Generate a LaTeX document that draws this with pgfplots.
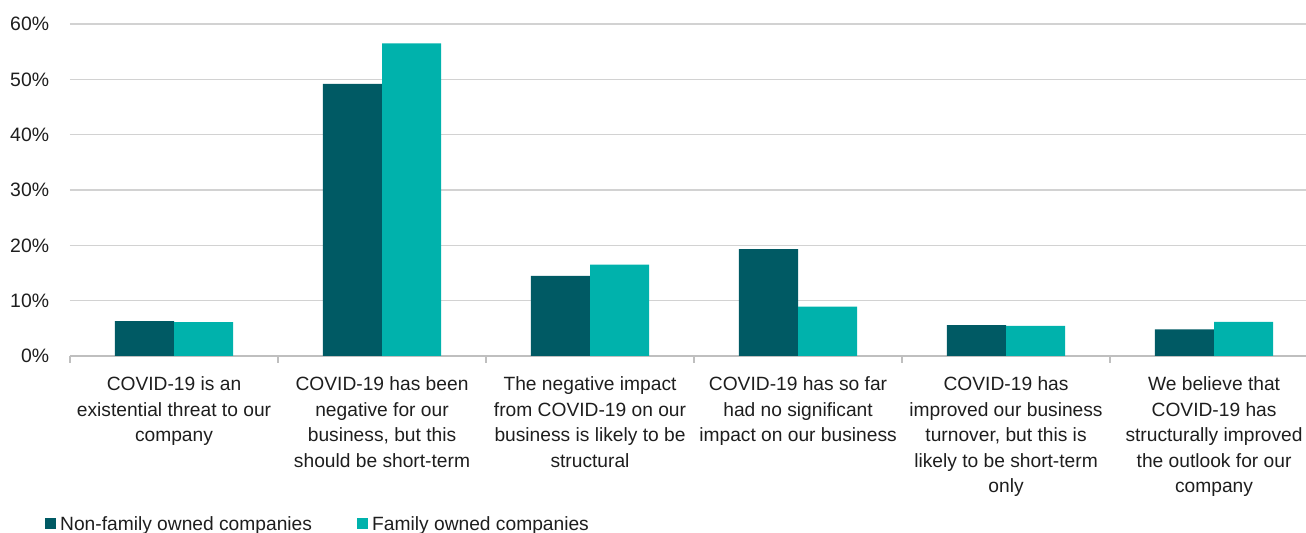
\documentclass[border=0pt]{standalone}
\usepackage{pgfplots}
\pgfplotsset{compat=1.18}
\usepackage{fontspec}
\setmainfont{Liberation Sans}
\definecolor{dk}{HTML}{005A64}
\definecolor{tl}{HTML}{00B2AC}
\definecolor{gridc}{HTML}{D2D2D2}
\definecolor{basec}{HTML}{BFBFBF}
\definecolor{txt}{HTML}{1E1E1E}
\begin{document}
\begin{tikzpicture}
\useasboundingbox (0,0) rectangle (653pt,266.5pt);
\begin{axis}[
  at={(35pt,88.5pt)}, anchor=south west,
  scale only axis, width=618pt, height=166pt,
  xmin=-0.5, xmax=5.442, ymin=0, ymax=60,
  ybar=0pt, bar width=0.284,
  axis x line*=bottom, axis y line*=left,
  x axis line style={-, draw=basec, line width=1pt},
  y axis line style={draw=none},
  ymajorgrids, grid style={draw=gridc, line width=0.6pt},
  ytick={0,10,...,60},
  yticklabel={\pgfmathprintnumber{\tick}\%},
  /pgf/number format/assume math mode=true,
  yticklabel style={anchor=east, inner sep=0pt, xshift=-6pt, text=txt, font=\fontsize{9.7}{12.75}\selectfont},
  ytick style={draw=none},
  xtick={0,1,2,3,4,5},
  xticklabels={
    {COVID-19 is an\\existential threat to our\\company},
    {COVID-19 has been\\negative for our\\business, but this\\should be short-term},
    {The negative impact\\from COVID-19 on our\\business is likely to be\\structural},
    {COVID-19 has so far\\had no significant\\impact on our business},
    {COVID-19 has\\improved our business\\turnover, but this is\\likely to be short-term\\only},
    {We believe that\\COVID-19 has\\structurally improved\\the outlook for our\\company}},
  xticklabel style={align=center, anchor=north, inner sep=0pt, yshift=-6pt, text=txt, font=\fontsize{9.6}{12.75}\selectfont},
  major x tick style={draw=none},
  minor xtick={-0.5,0.5,1.5,2.5,3.5,4.5},
  minor x tick style={draw=basec, line width=0.8pt},
  minor tick length=3.5pt,
  tick align=outside,
  legend columns=2,
  legend cell align=left,
  legend style={at={(axis description cs:-0.02023,-0.5332)}, anchor=south west,
    draw=none, inner sep=0pt, outer sep=0pt,
    font=\fontsize{9.6}{12.75}\selectfont,
    nodes={inner sep=0pt, text=txt},
    /tikz/every odd column/.append style={column sep=2pt},
    /tikz/every even column/.append style={column sep=22.5pt}},
  legend image code/.code={\fill[#1] (0pt,-2.3pt) rectangle (5.6pt,3.5pt);},
]
\addplot[fill=dk, draw=none] coordinates {(0,6.3) (1,49.2) (2,14.5) (3,19.3) (4,5.6) (5,4.8)};
\addplot[fill=tl, draw=none] coordinates {(0,6.1) (1,56.5) (2,16.5) (3,8.9) (4,5.45) (5,6.15)};
\legend{Non-family owned companies, Family owned companies}
\end{axis}
\end{tikzpicture}
\end{document}
